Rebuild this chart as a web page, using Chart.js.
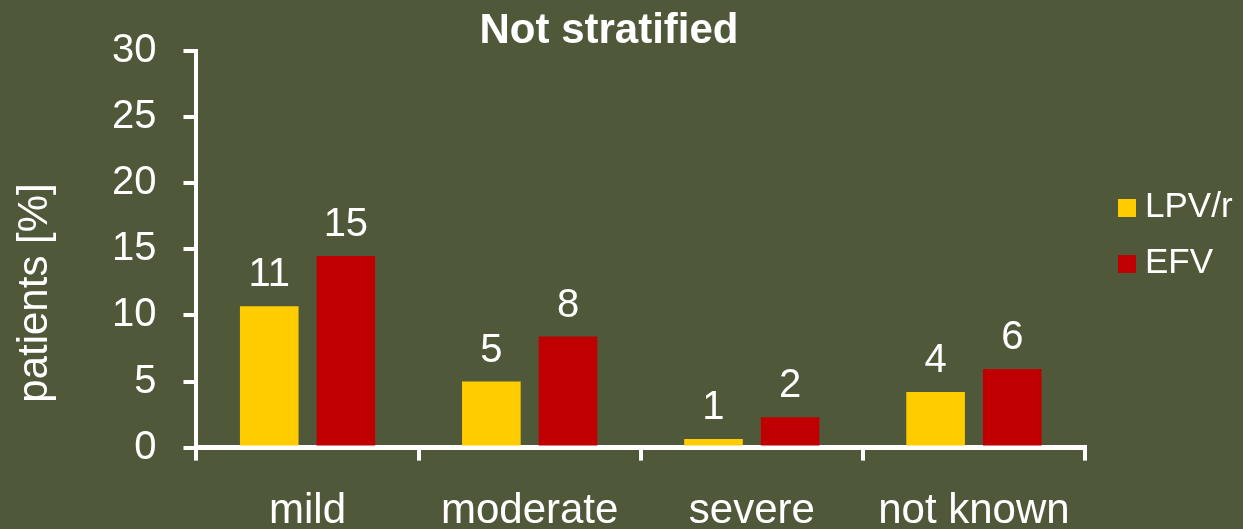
<!DOCTYPE html>
<html>
<head>
<meta charset="utf-8">
<script src="https://cdn.jsdelivr.net/npm/chart.js@4/dist/chart.umd.min.js"></script>
<style>
    html, body { margin: 0; padding: 0; background: #4F593A; }
</style>
</head>
<body>
<canvas id="severityChart" width="1243" height="529"></canvas>
<script>
// Data
const categories = ['mild', 'moderate', 'severe', 'not known'];
const seriesNames = ['LPV/r', 'EFV'];
const lpvValues = [10.7, 5.0, 0.65, 4.2];
const efvValues = [14.5, 8.4, 2.3, 5.95];
const lpvLabels = ['11', '5', '1', '4'];
const efvLabels = ['15', '8', '2', '6'];
const yTicks = [0, 5, 10, 15, 20, 25, 30];

const FONT = '"Liberation Sans", Arial, sans-serif';
const WHITE = '#ffffff';

// Value labels above bars, legend, titles
const decorations = {
    id: 'decorations',
    afterDatasetsDraw(chart) {
        const ctx = chart.ctx;
        const labelSets = [lpvLabels, efvLabels];
        ctx.save();
        ctx.fillStyle = WHITE;
        ctx.font = '40px ' + FONT;
        ctx.textAlign = 'center';
        ctx.textBaseline = 'alphabetic';
        chart.data.datasets.forEach((ds, i) => {
            chart.getDatasetMeta(i).data.forEach((bar, j) => {
                ctx.fillText(labelSets[i][j], bar.x, bar.y - 20);
            });
        });
        ctx.restore();
    },
    afterDraw(chart) {
        const ctx = chart.ctx;
        ctx.save();
        ctx.fillStyle = WHITE;

        // chart title
        ctx.font = 'bold 42px ' + FONT;
        ctx.textAlign = 'center';
        ctx.textBaseline = 'alphabetic';
        ctx.fillText('Not stratified', 609, 43);

        // y axis title
        ctx.font = '42px ' + FONT;
        ctx.translate(47, 293);
        ctx.rotate(-Math.PI / 2);
        ctx.fillText('patients [%]', 0, 0);
        ctx.setTransform(1, 0, 0, 1, 0, 0);

        // legend
        ctx.font = '35px ' + FONT;
        ctx.textAlign = 'left';
        chart.data.datasets.forEach((ds, i) => {
            const base = 217 + i * 56;
            ctx.fillStyle = ds.backgroundColor;
            ctx.fillRect(1118, base - 18, 18, 18);
            ctx.fillStyle = WHITE;
            ctx.fillText(ds.label, 1145, base);
        });
        ctx.restore();
    }
};

new Chart(document.getElementById('severityChart'), {
    type: 'bar',
    data: {
        labels: categories,
        datasets: [{
            label: seriesNames[0],
            data: lpvValues,
            backgroundColor: '#FFCC00'
        }, {
            label: seriesNames[1],
            data: efvValues,
            backgroundColor: '#C00000'
        }]
    },
    options: {
        responsive: false,
        animation: false,
        // scales reserve twice the tick padding, hence the negative values
        layout: {
            padding: { left: 85, right: 158, top: 40, bottom: -34 }
        },
        datasets: {
            bar: { categoryPercentage: 0.69, barPercentage: 0.765 }
        },
        plugins: {
            legend: { display: false },
            title: { display: false },
            tooltip: { enabled: false }
        },
        scales: {
            x: {
                grid: {
                    offset: true,
                    drawOnChartArea: false,
                    color: WHITE,
                    lineWidth: 4,
                    tickLength: 13
                },
                border: { color: WHITE, width: 5 },
                ticks: {
                    color: WHITE,
                    padding: 26,
                    font: { family: FONT, size: 42 }
                }
            },
            y: {
                min: yTicks[0],
                max: yTicks[yTicks.length - 1],
                afterBuildTicks: (scale) => {
                    scale.ticks = yTicks.map(v => ({ value: v }));
                },
                grid: {
                    drawOnChartArea: false,
                    color: WHITE,
                    lineWidth: 4,
                    tickLength: 13
                },
                border: { color: WHITE, width: 4 },
                ticks: {
                    color: WHITE,
                    padding: 27,
                    font: { family: FONT, size: 40 }
                }
            }
        }
    },
    plugins: [decorations]
});
</script>
</body>
</html>
